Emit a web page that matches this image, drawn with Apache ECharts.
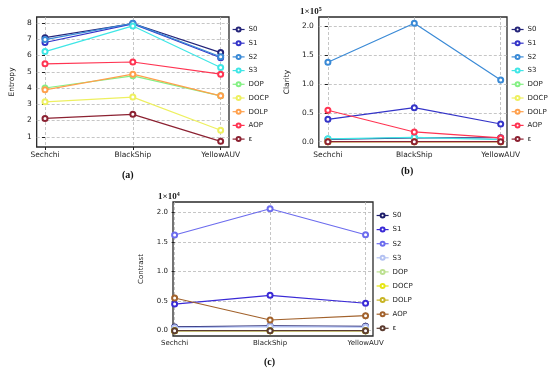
<!DOCTYPE html>
<html>
<head>
<meta charset="utf-8">
<script src="https://cdn.jsdelivr.net/npm/echarts@6/dist/echarts.min.js"></script>
<style>
html,body{margin:0;padding:0;background:#fff;width:550px;height:376px;overflow:hidden;}
.p{position:absolute;}
</style>
</head>
<body>
<div id="pa" class="p" style="left:0;top:0;width:275px;height:185px;"></div>
<div id="pb" class="p" style="left:275px;top:0;width:275px;height:185px;"></div>
<div id="pc" class="p" style="left:130px;top:185px;width:290px;height:191px;"></div>
<script>
// ---------- data ----------
const categories = ['Sechchi', 'BlackShip', 'YellowAUV'];
const seriesNames = ['S0', 'S1', 'S2', 'S3', 'DOP', 'DOCP', 'DOLP', 'AOP', 'ε'];

// (a) Entropy
const entropyS0 = [7.10, 7.97, 6.18];
const entropyS1 = [6.80, 7.95, 5.86];
const entropyS2 = [6.98, 7.98, 5.92];
const entropyS3 = [6.24, 7.82, 5.26];
const entropyDOP = [4.00, 4.75, 3.52];
const entropyDOCP = [3.15, 3.44, 1.40];
const entropyDOLP = [3.89, 4.85, 3.52];
const entropyAOP = [5.49, 5.60, 4.85];
const entropyEps = [2.13, 2.38, 0.72];

// (b) Clarity (x 1e5)
const clarityS0 = [0.040, 0.065, 0.068];
const clarityS1 = [0.387, 0.588, 0.306];
const clarityS2 = [1.373, 2.047, 1.067];
const clarityS3 = [0.050, 0.075, 0.035];
const clarityDOP = [0.0, 0.0, 0.0];
const clarityDOCP = [0.0, 0.0, 0.0];
const clarityDOLP = [0.0, 0.0, 0.0];
const clarityAOP = [0.543, 0.168, 0.065];
const clarityEps = [0.0, 0.0, 0.0];

// (c) Contrast (x 1e4)
const contrastS0 = [0.063, 0.080, 0.074];
const contrastS1 = [0.450, 0.598, 0.463];
const contrastS2 = [1.617, 2.060, 1.620];
const contrastS3 = [0.050, 0.070, 0.060];
const contrastDOP = [0.0, 0.0, 0.0];
const contrastDOCP = [0.0, 0.0, 0.0];
const contrastDOLP = [0.0, 0.0, 0.0];
const contrastAOP = [0.552, 0.180, 0.253];
const contrastEps = [0.0, 0.0, 0.0];

const entropyTicks = [1, 2, 3, 4, 5, 6, 7, 8];
const clarityTicks = [0, 0.5, 1.0, 1.5, 2.0];
const contrastTicks = [0, 0.5, 1.0, 1.5, 2.0];

// ---------- styles ----------
const colorsAB = ['#25257a', '#3434c8', '#3a8ad6', '#3fe6e6', '#84f084', '#eef060', '#ffa04c', '#ff3452', '#8c2232'];
const colorsC = ['#1c1c6a', '#3a2ad6', '#6c6cee', '#b4c2f2', '#bce090', '#e6e614', '#c8b424', '#a2622c', '#5c3c30'];
const FONT = 'DejaVu Sans';

function build(cfg) {
  const seriesArr = cfg.data.map((vals, i) => ({
    name: seriesNames[i],
    type: 'line',
    data: vals.map((v, j) => [j, v]),
    symbol: 'emptyCircle',
    symbolSize: 5,
    color: cfg.colors[i],
    lineStyle: { width: 1.2, color: cfg.colors[i] },
    itemStyle: { color: cfg.colors[i], borderWidth: 0.8 },
    animation: false,
    z: 3 + i
  }));
  const graphics = [];
  if (cfg.exp) {
    graphics.push({
      type: 'text', left: cfg.exp.x, top: cfg.exp.y,
      style: {
        text: '{b|1×10}{s|' + cfg.exp.p + '}',
        rich: {
          b: { fontFamily: 'Liberation Serif', fontSize: 9, fontWeight: 'bold', fill: '#222' },
          s: { fontFamily: 'Liberation Serif', fontSize: 6, fontWeight: 'bold', fill: '#222', verticalAlign: 'top', padding: [0, 0, 5, 0] }
        }
      }
    });
  }
  graphics.push({
    type: 'text', left: cfg.cap.x, top: cfg.cap.y,
    style: { text: cfg.cap.t, fontFamily: 'Liberation Serif', fontSize: 10, fontWeight: 'bold', fill: '#111' }
  });
  return {
    animation: false,
    backgroundColor: '#fff',
    textStyle: { fontFamily: FONT },
    grid: {
      left: cfg.grid[0], top: cfg.grid[1], width: cfg.grid[2], height: cfg.grid[3],
      show: true, borderColor: '#2a2a2a', borderWidth: 1.3, backgroundColor: 'transparent'
    },
    legend: {
      orient: 'vertical', left: cfg.leg.x, top: cfg.leg.y, padding: 0,
      itemWidth: 12, itemHeight: 5, itemGap: cfg.leg.gap,
      data: seriesNames,
      itemStyle: { borderWidth: 0.8 },
      lineStyle: { width: 1.2 },
      textStyle: { fontFamily: FONT, fontSize: 7, color: '#222', padding: [0, 0, 0, -1] },
      selectedMode: false
    },
    xAxis: {
      type: 'value', min: cfg.xr[0], max: cfg.xr[1],
      axisLine: { show: false },
      axisTick: { show: true, customValues: [0, 1, 2], length: 3, lineStyle: { color: '#222' } },
      axisLabel: {
        customValues: [0, 1, 2], fontFamily: FONT, fontSize: cfg.fs, color: '#222', margin: 4,
        formatter: v => categories[Math.round(v)]
      },
      splitLine: { show: true, lineStyle: { type: [3, 2], color: '#b8b8b8', width: 0.8 } }
    },
    yAxis: {
      type: 'value', min: cfg.yr[0], max: cfg.yr[1],
      name: cfg.yname, nameLocation: 'middle', nameGap: cfg.nameGap,
      nameTextStyle: { fontFamily: FONT, fontSize: cfg.fs, color: '#222' },
      axisLine: { show: false },
      axisTick: { show: true, customValues: cfg.yticks, length: 3, lineStyle: { color: '#222' } },
      axisLabel: {
        customValues: cfg.yticks, fontFamily: FONT, fontSize: cfg.fs, color: '#222', margin: 5,
        formatter: cfg.yfmt
      },
      splitLine: { show: true, lineStyle: { type: [3, 2], color: '#b8b8b8', width: 0.8 } }
    },
    graphic: graphics,
    series: seriesArr
  };
}

const chA = echarts.init(document.getElementById('pa'), null, { renderer: 'canvas' });
chA.setOption(build({
  data: [entropyS0, entropyS1, entropyS2, entropyS3, entropyDOP, entropyDOCP, entropyDOLP, entropyAOP, entropyEps],
  colors: colorsAB,
  grid: [21, 17, 208, 130],
  xr: [-0.095, 2.095], yr: [0.37, 8.37], yticks: entropyTicks,
  yfmt: v => String(Math.round(v)),
  yname: 'Entropy', nameGap: 14, fs: 7.5,
  leg: { x: 232, y: 26, gap: 6.7 },
  cap: { x: 122, y: 170, t: '(a)' }
}));

const chB = echarts.init(document.getElementById('pb'), null, { renderer: 'canvas' });
chB.setOption(build({
  data: [clarityS0, clarityS1, clarityS2, clarityS3, clarityDOP, clarityDOCP, clarityDOLP, clarityAOP, clarityEps],
  colors: colorsAB,
  grid: [24, 17, 208, 130],
  xr: [-0.105, 2.073], yr: [-0.092, 2.156], yticks: clarityTicks,
  yfmt: v => v.toFixed(1),
  yname: 'Clarity', nameGap: 24, fs: 7.5,
  leg: { x: 236, y: 26, gap: 6.7 },
  exp: { x: 25, y: 6, p: '5' },
  cap: { x: 126, y: 166, t: '(b)' }
}));

const chC = echarts.init(document.getElementById('pc'), null, { renderer: 'canvas' });
chC.setOption(build({
  data: [contrastS0, contrastS1, contrastS2, contrastS3, contrastDOP, contrastDOCP, contrastDOLP, contrastAOP, contrastEps],
  colors: colorsC,
  grid: [36, 17, 207, 134],
  xr: [-0.017, 2.078], yr: [-0.09, 2.174], yticks: contrastTicks,
  yfmt: v => v.toFixed(1),
  yname: 'Contrast', nameGap: 28, fs: 7,
  leg: { x: 246, y: 27, gap: 7.1 },
  exp: { x: 28, y: 6, p: '4' },
  cap: { x: 134, y: 172, t: '(c)' }
}));
</script>
</body>
</html>
